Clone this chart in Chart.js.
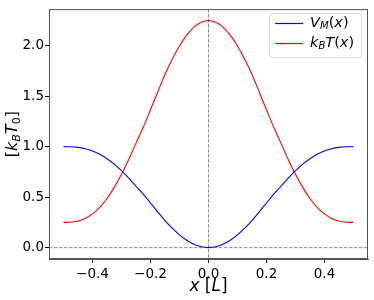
<!DOCTYPE html>
<html>
<head>
<meta charset="utf-8">
<script src="https://cdn.jsdelivr.net/npm/chart.js@4"></script>
<style>
  body { margin: 0; background: #fff; }
</style>
</head>
<body>
<canvas id="chart" width="374" height="300"></canvas>
<script>
// positions along the box, in units of L
const xValues = [-0.5, -0.475, -0.45, -0.425, -0.4, -0.375, -0.35, -0.325, -0.3, -0.275,
  -0.25, -0.225, -0.2, -0.175, -0.15, -0.125, -0.1, -0.075, -0.05, -0.025,
  0, 0.025, 0.05, 0.075, 0.1, 0.125, 0.15, 0.175, 0.2, 0.225,
  0.25, 0.275, 0.3, 0.325, 0.35, 0.375, 0.4, 0.425, 0.45, 0.475, 0.5];

// V_M(x)
const vM = [1.000, 0.999, 0.993, 0.980, 0.958, 0.925, 0.881, 0.827, 0.762, 0.688,
  0.608, 0.529, 0.442, 0.354, 0.268, 0.193, 0.127, 0.073, 0.033, 0.008,
  0.000, 0.008, 0.033, 0.073, 0.127, 0.193, 0.268, 0.354, 0.442, 0.529,
  0.608, 0.688, 0.762, 0.827, 0.881, 0.925, 0.958, 0.980, 0.993, 0.999, 1.000];

// k_B T(x)
const kBT = [0.250, 0.252, 0.263, 0.289, 0.334, 0.400, 0.487, 0.597, 0.726, 0.874,
  1.035, 1.192, 1.366, 1.542, 1.715, 1.865, 1.997, 2.104, 2.184, 2.233,
  2.250, 2.233, 2.184, 2.104, 1.997, 1.865, 1.715, 1.542, 1.366, 1.192,
  1.035, 0.874, 0.726, 0.597, 0.487, 0.400, 0.334, 0.289, 0.263, 0.252, 0.250];

const xTicks = [-0.4, -0.2, 0.0, 0.2, 0.4];
const yTicks = [0.0, 0.5, 1.0, 1.5, 2.0];

const FONT = '"DejaVu Sans", sans-serif';

function fmt(v) {
  const s = (Math.abs(v) < 1e-9 ? 0 : v).toFixed(1);
  return s.replace('-', '\u2212');
}

// draw a mathtext-like string made of parts
function drawMath(ctx, parts, x, y, size, align) {
  const widths = parts.map(p => {
    const fs = p.sub ? size * 0.7 : size;
    ctx.font = (p.it ? 'italic ' : '') + fs + 'px ' + FONT;
    return ctx.measureText(p.t).width;
  });
  const total = widths.reduce((a, b) => a + b, 0);
  let cx = align === 'center' ? x - total / 2 : x;
  parts.forEach((p, i) => {
    const fs = p.sub ? size * 0.7 : size;
    ctx.font = (p.it ? 'italic ' : '') + fs + 'px ' + FONT;
    ctx.fillText(p.t, cx, p.sub ? y + size * 0.2 : y);
    cx += widths[i];
  });
}

const overlay = {
  id: 'overlay',
  beforeDatasetsDraw(chart) {
    const ctx = chart.ctx;
    const a = chart.chartArea;
    const x0 = chart.scales.x.getPixelForValue(0);
    const y0 = chart.scales.y.getPixelForValue(0);
    ctx.save();
    ctx.strokeStyle = '#808080';
    ctx.lineWidth = 0.9;
    ctx.setLineDash([3.5, 1.5]);
    ctx.beginPath();
    ctx.moveTo(x0, a.top);
    ctx.lineTo(x0, a.bottom);
    ctx.moveTo(a.left, y0);
    ctx.lineTo(a.right, y0);
    ctx.stroke();
    ctx.restore();
  },
  afterDraw(chart) {
    const ctx = chart.ctx;
    const a = chart.chartArea;
    ctx.save();
    // frame
    ctx.strokeStyle = '#555';
    ctx.lineWidth = 1;
    ctx.strokeRect(a.left + 0.5, a.top + 0.5, a.right - a.left - 1, a.bottom - a.top - 1);

    // legend box
    const lx = 269, ly = 13, lw = 92, lh = 44;
    ctx.fillStyle = 'rgba(255,255,255,0.8)';
    ctx.strokeStyle = '#d8d8d8';
    ctx.beginPath();
    ctx.roundRect(lx + 0.5, ly + 0.5, lw, lh, 3);
    ctx.fill();
    ctx.stroke();
    const entries = [
      { color: '#0000ff', y: 23, parts: [{ t: 'V', it: true }, { t: 'M', it: true, sub: true }, { t: '(' }, { t: 'x', it: true }, { t: ')' }] },
      { color: '#ff0000', y: 43, parts: [{ t: 'k', it: true }, { t: 'B', it: true, sub: true }, { t: 'T', it: true }, { t: '(' }, { t: 'x', it: true }, { t: ')' }] }
    ];
    entries.forEach(e => {
      ctx.strokeStyle = e.color;
      ctx.lineWidth = 1.2;
      ctx.beginPath();
      ctx.moveTo(275, e.y + 0.5);
      ctx.lineTo(303, e.y + 0.5);
      ctx.stroke();
      ctx.fillStyle = '#000';
      ctx.textBaseline = 'middle';
      drawMath(ctx, e.parts, 310, e.y, 14.5, 'left');
    });

    // axis titles
    ctx.fillStyle = '#000';
    ctx.textBaseline = 'alphabetic';
    drawMath(ctx, [{ t: 'x', it: true }, { t: ' [' }, { t: 'L', it: true }, { t: ']' }],
      (a.left + a.right) / 2, 291, 17, 'center');
    ctx.translate(17, (a.top + a.bottom) / 2);
    ctx.rotate(-Math.PI / 2);
    drawMath(ctx, [{ t: '[' }, { t: 'k', it: true }, { t: 'B', it: true, sub: true }, { t: 'T', it: true }, { t: '0', sub: true }, { t: ']' }],
      0, 0, 16, 'center');
    ctx.restore();
  }
};

const ctx = document.getElementById('chart').getContext('2d');
new Chart(ctx, {
  type: 'line',
  data: {
    labels: xValues,
    datasets: [
      {
        label: 'V_M(x)',
        data: xValues.map((x, i) => ({ x: x, y: vM[i] })),
        borderColor: '#0000ff',
        borderWidth: 1.1,
        pointRadius: 0,
        cubicInterpolationMode: 'monotone',
        fill: false
      },
      {
        label: 'k_BT(x)',
        data: xValues.map((x, i) => ({ x: x, y: kBT[i] })),
        borderColor: '#ff0000',
        borderWidth: 1.1,
        pointRadius: 0,
        cubicInterpolationMode: 'monotone',
        fill: false
      }
    ]
  },
  options: {
    responsive: false,
    animation: false,
    devicePixelRatio: 1,
    layout: { padding: { left: 0, right: 6, top: 6, bottom: 0 } },
    plugins: {
      legend: { display: false },
      tooltip: { enabled: false }
    },
    scales: {
      x: {
        type: 'linear',
        min: -0.55,
        max: 0.55,
        afterBuildTicks: s => { s.ticks = xTicks.map(v => ({ value: v })); },
        afterFit: s => { s.height = 41; },
        grid: { display: true, drawOnChartArea: false, drawTicks: true, tickLength: 4, color: '#000', tickWidth: 1 },
        border: { display: true, color: '#555', width: 1 },
        ticks: {
          padding: 3,
          color: '#000',
          font: { family: FONT, size: 13.5 },
          maxRotation: 0,
          callback: v => fmt(v)
        }
      },
      y: {
        type: 'linear',
        min: -0.1125,
        max: 2.3625,
        afterBuildTicks: s => { s.ticks = yTicks.map(v => ({ value: v })); },
        afterFit: s => { s.width = 49; },
        grid: { display: true, drawOnChartArea: false, drawTicks: true, tickLength: 4, color: '#000', tickWidth: 1 },
        border: { display: true, color: '#555', width: 1 },
        ticks: {
          padding: 1,
          color: '#000',
          font: { family: FONT, size: 13.5 },
          callback: v => fmt(v)
        }
      }
    }
  },
  plugins: [overlay]
});
</script>
</body>
</html>
